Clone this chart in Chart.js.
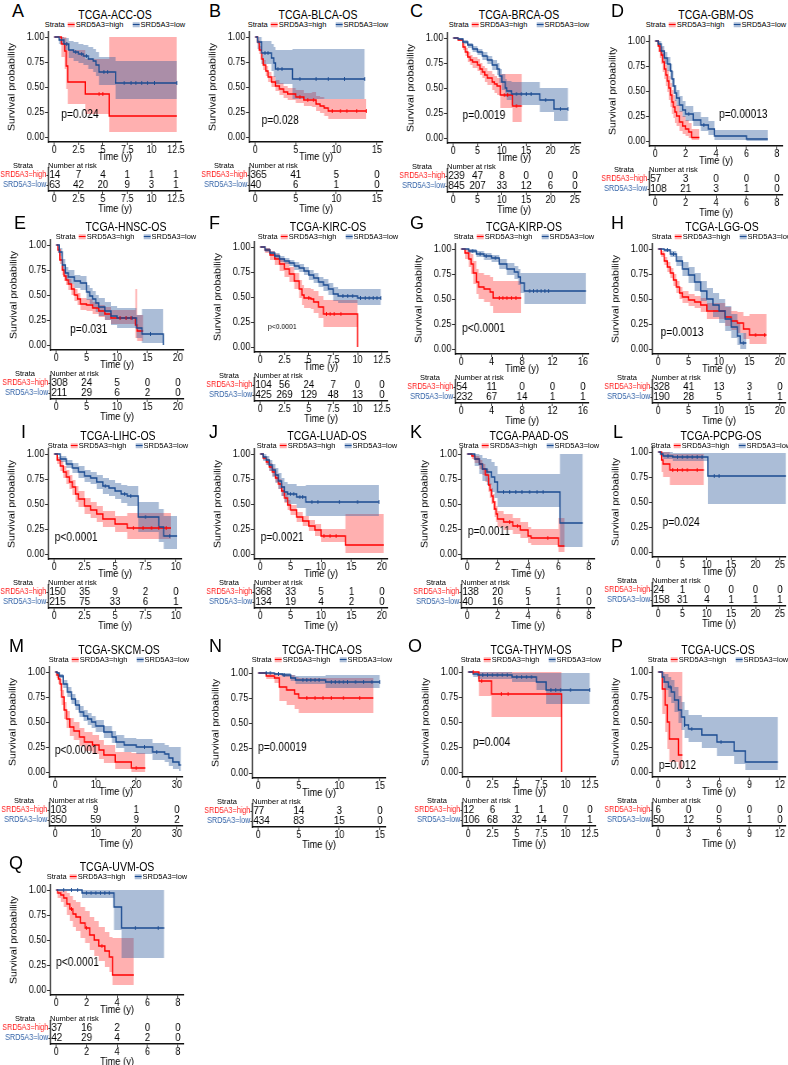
<!DOCTYPE html>
<html>
<head>
<meta charset="utf-8">
<title>SRD5A3 overall survival, TCGA</title>
<script src="https://cdn.jsdelivr.net/npm/chart.js@4.4.1/dist/chart.umd.min.js"></script>
<style>
  html, body { margin: 0; padding: 0; background: #fff; }
  body { width: 788px; height: 1065px; position: relative; overflow: hidden;
         font-family: 'Liberation Sans', Arial, sans-serif; color: #000; }
  canvas { position: absolute; }
  .txt { position: absolute; white-space: nowrap; line-height: 1; }
  .letter { font-size: 18px; line-height: 18px; }
  .title { font-size: 12.5px; transform: translate(-50%, -50%) scaleX(0.84); }
  .legend { font-size: 7.5px; transform: translate(-50%, -50%); display: flex; align-items: center; }
  .key { display: inline-block; width: 7px; height: 5px; margin: 0 1px 0 3px; }
  .key.high { background: linear-gradient(to bottom, #ffb0b0 40%, #f00 40%, #f00 62%, #ffb0b0 62%); }
  .key.low { background: linear-gradient(to bottom, #abbdd7 40%, #1b4b91 40%, #1b4b91 62%, #abbdd7 62%); }
  .gap { display: inline-block; width: 6px; }
  .head { font-size: 7.5px; transform: translateY(-50%); }
</style>
</head>
<body>
<script>
// ---- data, one entry per panel (A..Q) ----
const letters = ["A","B","C","D","E","F","G","H","I","J","K","L","M","N","O","P","Q"];
const titles = ["TCGA-ACC-OS","TCGA-BLCA-OS","TCGA-BRCA-OS","TCGA-GBM-OS","TCGA-HNSC-OS","TCGA-KIRC-OS",
  "TCGA-KIRP-OS","TCGA-LGG-OS","TCGA-LIHC-OS","TCGA-LUAD-OS","TCGA-PAAD-OS","TCGA-PCPG-OS",
  "TCGA-SKCM-OS","TCGA-THCA-OS","TCGA-THYM-OS","TCGA-UCS-OS","TCGA-UVM-OS"];
const pTexts = ["p=0.024","p=0.028","p=0.0019","p=0.00013","p=0.031","p<0.0001","p<0.0001","p=0.0013",
  "p<0.0001","p=0.0021","p=0.0011","p=0.024","p<0.0001","p=0.00019","p=0.004","p=0.012","p<0.0001"];

const xTicks = [
  [0,2.5,5,7.5,10,12.5],[0,5,10,15],[0,5,10,15,20,25],[0,2,4,6,8],
  [0,5,10,15,20],[0,2.5,5,7.5,10,12.5],[0,4,8,12,16],[0,5,10,15,20],
  [0,2.5,5,7.5,10],[0,5,10,15,20],[0,2,4,6,8],[0,5,10,15,20,25],
  [0,10,20,30],[0,5,10,15],[0,2.5,5,7.5,10,12.5],[0,3,6,9,12],[0,2,4,6,8]];
const yTicks = [0, 0.25, 0.5, 0.75, 1];

const riskHigh = [
  [14,7,4,1,1,1],[365,41,5,0],[239,47,8,0,0,0],[57,3,0,0,0],
  [308,24,5,0,0],[104,56,24,7,0,0],[54,11,0,0,0],[328,41,13,3,0],
  [150,35,9,2,0],[368,33,5,1,0],[138,20,5,1,0],[24,1,0,0,0,0],
  [103,9,1,0],[77,14,3,0],[12,6,1,1,0,0],[6,0,0,0,0],[37,16,2,0,0]];
const riskLow = [
  [63,42,20,9,3,1],[40,6,1,0],[845,207,33,12,6,0],[108,21,3,1,0],
  [211,29,6,2,0],[425,269,129,48,13,0],[232,67,14,1,1],[190,28,5,1,1],
  [215,75,33,6,1],[134,19,4,2,0],[40,16,1,1,0],[158,31,4,1,1,1],
  [350,59,9,2],[434,83,15,0],[106,68,32,14,7,1],[50,12,5,1,0],[42,29,4,2,0]];

// SRD5A3=high curves
const highTime = [
  [0,0.75,1.07,1.24,1.4,3.2,5.65,12.6],
  [0,0.3,0.5,0.8,1,1.3,1.6,2,2.5,3,3.5,4,5,6,7,7.5,8,8.5,9,13.7],
  [0,1,2,2.5,3,3.5,4,5,5.5,6,6.5,7,8,8.5,9,9.7,12.2,14.1],
  [0,0.2,0.3,0.4,0.5,0.6,0.7,0.8,0.9,1.0,1.1,1.2,1.3,1.4,1.6,1.8,2.0,2.2,2.4,2.9],
  [0,0.3,0.6,1,1.3,1.6,2,2.5,3,3.5,4,5,6,7,8,9,13,13.3,14.3],
  [0,0.5,1,1.5,2,2.5,3,3.5,4,4.3,4.5,5.2,5.5,6,6.5,10],
  [0,0.5,1,1.3,1.6,2,2.3,3,3.8,4.2,7.9],
  [0,0.5,1,1.5,2,2.5,3,3.5,4,5,6,7,8,10,11,12,13,14,15,17.8],
  [0,0.25,0.5,0.75,1,1.25,1.5,1.75,2,2.5,3,3.5,4,5,6,9.6],
  [0,0.5,1,1.5,2,2.5,3,3.5,4,4.5,5,6,7,8,9,10,14,20.3],
  [0,0.3,0.5,0.8,1,1.2,1.4,1.5,1.6,1.7,1.8,1.9,2,2.4,3,3.5,4,4.2,6,6.4],
  [0,0.7,1.0,2.4,9.4],
  [0,0.4,0.8,1.2,1.6,2.2,2.8,3.6,4.6,6,7.2,9.2,10.8,12,14.8,18.8,22.2],
  [0,1,2,2.6,3.5,4.5,5,14.2],
  [0,1.1,2.4,9.6],
  [0,0.4,0.7,0.9,1.1,2.0,2.4],
  [0,0.1,0.3,0.5,0.7,0.9,1.1,1.3,1.6,1.9,2.2,2.5,2.8,3.2,3.5,3.7,5.1]];
const highSurv = [
  [1,0.93,0.86,0.71,0.55,0.43,0.21,0.21],
  [1,0.95,0.87,0.78,0.72,0.66,0.6,0.55,0.51,0.48,0.45,0.43,0.4,0.37,0.37,0.33,0.31,0.29,0.26,0.26],
  [1,0.98,0.91,0.86,0.81,0.78,0.76,0.73,0.69,0.66,0.63,0.6,0.56,0.54,0.52,0.43,0.32,0.32],
  [1,0.95,0.9,0.86,0.79,0.72,0.66,0.6,0.53,0.46,0.39,0.34,0.29,0.25,0.19,0.15,0.12,0.09,0.035,0.035],
  [1,0.95,0.85,0.75,0.69,0.65,0.61,0.56,0.5,0.46,0.41,0.4,0.37,0.34,0.31,0.27,0.2,0.14,0.14],
  [1,0.97,0.92,0.88,0.83,0.78,0.73,0.66,0.58,0.52,0.49,0.48,0.45,0.4,0.33,0],
  [1,0.96,0.9,0.85,0.76,0.67,0.62,0.6,0.57,0.51,0.51],
  [1,0.95,0.88,0.82,0.76,0.69,0.62,0.56,0.52,0.49,0.47,0.44,0.38,0.38,0.32,0.28,0.26,0.2,0.14,0.14],
  [1,0.94,0.88,0.82,0.77,0.72,0.67,0.6,0.55,0.48,0.44,0.4,0.35,0.3,0.26,0.26],
  [1,0.96,0.92,0.87,0.82,0.76,0.7,0.63,0.56,0.49,0.44,0.37,0.33,0.28,0.24,0.18,0.09,0.09],
  [1,0.98,0.95,0.9,0.85,0.79,0.69,0.64,0.58,0.52,0.45,0.4,0.35,0.32,0.28,0.24,0.18,0.16,0.08,0.08],
  [1,0.92,0.88,0.82,0.82],
  [1,0.97,0.93,0.88,0.75,0.62,0.53,0.45,0.41,0.35,0.3,0.27,0.22,0.17,0.1,0.04,0.04],
  [1,0.97,0.95,0.86,0.83,0.79,0.75,0.75],
  [1,0.91,0.78,0],
  [1,0.83,0.67,0.5,0.33,0.17,0.17],
  [1,0.97,0.95,0.92,0.86,0.81,0.76,0.73,0.67,0.62,0.55,0.5,0.44,0.39,0.33,0.15,0.15]];
const highUpper = [
  [1,1,1,0.95,0.87,0.78,1,1],
  [1,0.97,0.91,0.83,0.77,0.71,0.65,0.61,0.57,0.54,0.51,0.49,0.47,0.44,0.45,0.41,0.4,0.38,0.38,0.38],
  [1,0.99,0.94,0.9,0.86,0.83,0.81,0.79,0.75,0.72,0.7,0.67,0.64,0.62,0.6,0.64,0.64,0.64],
  [1,1,0.97,0.94,0.88,0.82,0.76,0.71,0.65,0.58,0.51,0.46,0.41,0.36,0.3,0.25,0.21,0.18,0.12,0.12],
  [1,0.98,0.89,0.8,0.74,0.7,0.66,0.61,0.56,0.52,0.47,0.46,0.43,0.4,0.38,0.35,0.56,0.3,0.3],
  [1,0.99,0.96,0.93,0.89,0.85,0.8,0.74,0.67,0.62,0.59,0.58,0.56,0.51,0.47,0.47],
  [1,1,0.98,0.95,0.88,0.8,0.76,0.74,0.72,0.68,0.68],
  [1,0.98,0.92,0.87,0.81,0.75,0.68,0.62,0.58,0.55,0.53,0.51,0.46,0.46,0.42,0.38,0.37,0.33,0.35,0.35],
  [1,0.97,0.93,0.88,0.84,0.79,0.74,0.68,0.63,0.56,0.52,0.48,0.43,0.38,0.41,0.41],
  [1,0.98,0.95,0.91,0.86,0.8,0.75,0.68,0.61,0.54,0.49,0.42,0.38,0.34,0.3,0.25,0.4,0.4],
  [1,1,0.98,0.94,0.9,0.85,0.76,0.71,0.66,0.6,0.53,0.48,0.43,0.4,0.36,0.32,0.27,0.25,0.36,0.36],
  [1,1,1,0.98,0.98],
  [1,1,0.97,0.93,0.82,0.7,0.61,0.54,0.5,0.44,0.4,0.37,0.32,0.27,0.2,0.19,0.19],
  [1,1,1,0.99,0.98,0.96,0.95,0.95],
  [1,1,1,1],
  [1,1,1,1,1,1,1],
  [1,1,1,0.99,0.97,0.94,0.9,0.88,0.83,0.79,0.73,0.69,0.63,0.58,0.53,0.52,0.52]];
const highLower = [
  [1,0.8,0.68,0.48,0.33,0.23,0.05,0.05],
  [1,0.93,0.83,0.73,0.67,0.61,0.55,0.5,0.46,0.42,0.39,0.37,0.34,0.31,0.3,0.26,0.24,0.21,0.18,0.18],
  [1,0.97,0.88,0.82,0.76,0.73,0.7,0.67,0.63,0.6,0.56,0.53,0.48,0.45,0.43,0.3,0.16,0.16],
  [1,0.89,0.83,0.77,0.69,0.62,0.55,0.49,0.41,0.34,0.27,0.23,0.18,0.15,0.1,0.07,0.05,0.03,0.01,0.01],
  [1,0.92,0.81,0.7,0.64,0.6,0.55,0.5,0.44,0.4,0.35,0.34,0.31,0.28,0.25,0.21,0.07,0.04,0.04],
  [1,0.94,0.87,0.82,0.76,0.7,0.65,0.58,0.49,0.42,0.39,0.38,0.34,0.29,0.2,0.2],
  [1,0.9,0.82,0.75,0.65,0.55,0.5,0.47,0.43,0.36,0.36],
  [1,0.92,0.84,0.77,0.71,0.63,0.56,0.5,0.46,0.43,0.41,0.37,0.3,0.3,0.23,0.19,0.16,0.1,0.05,0.05],
  [1,0.9,0.83,0.76,0.7,0.65,0.59,0.52,0.47,0.4,0.36,0.32,0.27,0.22,0.15,0.15],
  [1,0.94,0.89,0.83,0.78,0.72,0.65,0.58,0.51,0.44,0.39,0.32,0.28,0.23,0.18,0.12,0.01,0.01],
  [1,0.95,0.91,0.85,0.79,0.72,0.62,0.56,0.5,0.44,0.37,0.32,0.27,0.24,0.2,0.16,0.11,0.09,0.02,0.02],
  [1,0.8,0.75,0.67,0.67],
  [1,0.94,0.88,0.81,0.67,0.53,0.44,0.36,0.32,0.26,0.21,0.18,0.13,0.09,0.03,0,0],
  [1,0.94,0.9,0.72,0.68,0.64,0.6,0.6],
  [1,0.76,0.55,0.55],
  [1,0.58,0.4,0.23,0.1,0.03,0.03],
  [1,0.92,0.88,0.83,0.75,0.69,0.63,0.59,0.52,0.47,0.4,0.34,0.29,0.23,0.18,0.05,0.05]];
const highCensor = [
  [4.6,5.0],[5.5,6.5,7.2,9.5,10.5,11.3,12.5,13.7],[10.5,11.2,13.0],[],
  [10.5,11.5,12.3],[5.0,6.8,7.2,7.6,8.3],[5,5.5,6,6.6,7.2],[16,17.5],
  [6.5,7.3,8.0,8.6,9.2],[10.5,11.5,12.5],[2.8,3.3,5.3],[3,4,5,6,8],
  [20],[6,7,8,9,10.5,12.5],[0.5,1.4,3.4,4.1],[],[1.0,2.0,3.0]];

// SRD5A3=low curves
const lowTime = [
  [0,0.5,1.0,1.5,2.0,2.5,3.0,3.5,4.0,4.3,4.6,6.3,12.6],
  [0,0.3,0.8,2.0,2.3,2.5,4.6,13.5],
  [0,1,2,3,4,5,6,7,8,9,9.5,10,10.7,11,12,17.8,20.7,23.6],
  [0,0.2,0.4,0.6,0.8,1.0,1.1,1.2,1.3,1.4,1.6,1.8,2.0,2.5,3.0,3.5,3.9,6.0,7.4],
  [0,0.5,1,1.5,2,3,4,5,5.5,6,6.5,7,8,9,10,13.2,14.1,17.6],
  [0,0.5,1,1.5,2,2.5,3,3.5,4,4.5,5,5.5,6,6.5,7,7.5,8,10,12.4],
  [0,1,2,3,4,5,6,7,7.5,7.8,8.3,16.4],
  [0,1,2,3,4,5,6,7,8,9,10,11,12,13,13.5,14.5],
  [0,0.5,1,1.5,2,2.5,3,3.5,4,4.5,5,5.5,6,6.9,8.6,9.0,10.1],
  [0,0.5,1,1.5,2,2.5,3,3.5,4,4.5,6,7.5,19.5],
  [0,0.5,0.8,1,1.3,1.6,1.8,2,6.1,7.6],
  [0,0.5,1,3,10.2,26.4],
  [0,0.5,1,2,3,4,5,6,7,8,9,10,12,14,15,17,20,24,27,28,29,30.5,31],
  [0,2,3,4,4.6,8.3,15],
  [0,0.5,1,4.5,7,8,12.5],
  [0,0.4,0.6,1,1.3,1.6,2,2.3,2.6,3,4.3,5.8,7.5,8.6,11.8],
  [0,1.7,3.8,4.3,7.1]];
const lowSurv = [
  [1,0.97,0.93,0.87,0.85,0.83,0.81,0.78,0.76,0.72,0.65,0.54,0.54],
  [1,0.95,0.84,0.79,0.74,0.68,0.58,0.58],
  [1,0.99,0.96,0.93,0.89,0.86,0.82,0.78,0.73,0.69,0.62,0.56,0.5,0.47,0.44,0.38,0.29,0.29],
  [1,0.97,0.9,0.83,0.77,0.7,0.62,0.55,0.48,0.43,0.36,0.31,0.27,0.21,0.16,0.12,0.05,0.02,0.02],
  [1,0.93,0.8,0.72,0.68,0.64,0.62,0.53,0.49,0.46,0.42,0.38,0.34,0.29,0.27,0.17,0.11,0],
  [1,0.97,0.94,0.91,0.88,0.86,0.84,0.81,0.79,0.76,0.72,0.69,0.65,0.62,0.58,0.53,0.51,0.49,0.49],
  [1,0.98,0.95,0.93,0.91,0.85,0.8,0.77,0.72,0.66,0.58,0.58],
  [1,0.99,0.95,0.88,0.8,0.74,0.67,0.58,0.5,0.44,0.38,0.3,0.22,0.13,0.06,0.06],
  [1,0.95,0.9,0.86,0.82,0.78,0.76,0.72,0.68,0.66,0.63,0.6,0.58,0.37,0.27,0.18,0.18],
  [1,0.97,0.94,0.89,0.84,0.79,0.73,0.67,0.62,0.6,0.57,0.52,0.52],
  [1,0.95,0.9,0.85,0.82,0.77,0.72,0.62,0.31,0.31],
  [1,0.98,0.96,0.95,0.76,0.76],
  [1,0.99,0.96,0.88,0.8,0.73,0.67,0.6,0.56,0.53,0.5,0.46,0.4,0.35,0.3,0.27,0.25,0.2,0.18,0.14,0.1,0.07,0.07],
  [1,0.99,0.98,0.95,0.93,0.91,0.91],
  [1,0.98,0.97,0.95,0.9,0.82,0.82],
  [1,0.95,0.9,0.85,0.8,0.72,0.62,0.55,0.47,0.43,0.37,0.3,0.21,0.1,0.1],
  [1,0.97,0.83,0.62,0.62]];
const lowUpper = [
  [1,1,0.99,0.96,0.95,0.93,0.92,0.9,0.88,0.85,0.8,0.76,0.76],
  [1,1,0.96,0.93,0.9,0.87,0.88,0.88],
  [1,1,0.98,0.95,0.92,0.89,0.86,0.82,0.78,0.75,0.69,0.64,0.59,0.57,0.56,0.5,0.5,0.5],
  [1,1,0.95,0.89,0.84,0.77,0.7,0.63,0.56,0.51,0.45,0.4,0.35,0.29,0.24,0.2,0.11,0.11,0.11],
  [1,0.97,0.86,0.78,0.75,0.7,0.69,0.6,0.57,0.54,0.5,0.47,0.43,0.39,0.37,0.3,0.36,0.36],
  [1,0.99,0.96,0.94,0.91,0.89,0.87,0.85,0.83,0.8,0.77,0.74,0.7,0.68,0.64,0.6,0.58,0.58,0.58],
  [1,1,0.98,0.96,0.94,0.9,0.86,0.83,0.8,0.76,0.76,0.76],
  [1,1,0.98,0.93,0.87,0.82,0.76,0.68,0.61,0.56,0.5,0.43,0.35,0.26,0.16,0.16],
  [1,0.98,0.94,0.91,0.88,0.84,0.82,0.79,0.76,0.74,0.71,0.69,0.68,0.52,0.45,0.38,0.38],
  [1,1,0.98,0.94,0.9,0.86,0.81,0.76,0.72,0.7,0.68,0.69,0.69],
  [1,1,0.99,0.96,0.95,0.92,0.88,0.8,1,1],
  [1,1,1,0.99,0.99,0.99],
  [1,1,0.98,0.92,0.85,0.78,0.72,0.66,0.62,0.59,0.56,0.52,0.46,0.41,0.37,0.34,0.33,0.29,0.27,0.25,0.25,0.25,0.25],
  [1,1,1,0.98,0.97,0.98,0.98],
  [1,1,1,0.99,0.99,0.99,0.99],
  [1,1,0.98,0.95,0.92,0.85,0.76,0.7,0.62,0.57,0.55,0.55,0.55,0.55,0.55],
  [1,1,1,1,1]];
const lowLower = [
  [1,0.93,0.87,0.79,0.76,0.74,0.72,0.68,0.65,0.61,0.52,0.38,0.38],
  [1,0.88,0.73,0.66,0.6,0.53,0.38,0.38],
  [1,0.98,0.94,0.9,0.86,0.83,0.78,0.74,0.68,0.63,0.55,0.48,0.41,0.38,0.33,0.26,0.17,0.17],
  [1,0.94,0.85,0.77,0.7,0.62,0.54,0.47,0.4,0.35,0.29,0.24,0.2,0.15,0.1,0.06,0.01,0,0],
  [1,0.89,0.74,0.66,0.61,0.57,0.55,0.45,0.41,0.37,0.33,0.29,0.25,0.2,0.17,0.07,0.02,0.02],
  [1,0.95,0.92,0.88,0.85,0.83,0.81,0.77,0.75,0.72,0.67,0.64,0.6,0.56,0.52,0.46,0.44,0.42,0.42],
  [1,0.96,0.92,0.89,0.87,0.8,0.74,0.7,0.64,0.56,0.45,0.45],
  [1,0.97,0.92,0.83,0.73,0.66,0.58,0.48,0.39,0.32,0.26,0.18,0.11,0.04,0,0],
  [1,0.92,0.86,0.81,0.76,0.72,0.7,0.65,0.6,0.58,0.55,0.51,0.48,0.22,0.12,0.05,0.05],
  [1,0.93,0.89,0.83,0.77,0.71,0.65,0.58,0.52,0.5,0.46,0.38,0.38],
  [1,0.88,0.8,0.73,0.69,0.62,0.56,0.47,0.07,0.07],
  [1,0.96,0.93,0.91,0.48,0.48],
  [1,0.97,0.94,0.84,0.75,0.68,0.62,0.55,0.51,0.47,0.44,0.4,0.34,0.29,0.24,0.2,0.18,0.12,0.1,0.06,0.03,0.01,0.01],
  [1,0.98,0.96,0.92,0.89,0.85,0.85],
  [1,0.95,0.93,0.9,0.82,0.68,0.68],
  [1,0.89,0.82,0.75,0.69,0.6,0.49,0.42,0.34,0.3,0.24,0.16,0.08,0.02,0.02],
  [1,0.92,0.6,0.32,0.32]];
const lowCensor = [
  [1.3,2.2,2.8,3.3,5.1,5.5,7.2,7.9,8.4,9.0,9.6,10.3,12.6],[1.2,1.6,2.8,3.3,5.5,7.5,9.0,11.0,13.5],
  [13,14,15,16,19,22,23.6],[2.2,3.2],
  [10.5,11.5,12.5,15.5],[8.5,9.0,9.5,10.3,10.8,11.2,11.6,12.0,12.4],
  [1.5,2.5,3.3,4.5,9.0,9.5,10.0,10.5,11.0,11.5],[1.5,2.5,14.0],
  [4.2,5.8,6.3,7.5,9.5],[5,5.5,6.5,7,8.5,9.5,13,16,19.5],[2.4,2.8,3.2,3.6,4.1,4.6,5.0],
  [2,4,5,6,7,8,9,11.5,12.5],[22,25],
  [1,1.5,2.5,3.2,5.5,6,6.5,7,7.5,9,9.5,10,10.5,11,12,13,14,15],
  [1.5,2,2.5,3,3.5,4,5,5.5,6,6.5,8.5,9,9.5,10.5,12.5],[1.2,2.6,3.3,6.2],
  [0.5,1.0,1.4,2.0,2.3,2.6,2.9,3.2,3.5,5.2,6.7]];

// ---- layout ----
const rowTop = [0, 212, 421, 635, 852];
const panelRow = [0,0,0,0,1,1,1,1,2,2,2,2,3,3,3,3,4];
const panelOrigin = [[0,0],[201,0],[399,1],[601,4],[2,208],[206,210],[407,212],[604,212],
  [0,417],[206,417],[413,417],[604,415],[1,635],[204,636],[414,635],[604,635],[2,853]];
const letterX = [12,209,410,611,14,209,410,611,21,209,410,613,9,209,408,611,9];
const titleX = [115,318,519,716,126,328,524,722,118,327,529,721,119,322,531,718,117];
const pPos = [[0.74,0.22],[0.8,0.16],[1.9,0.22],[4.2,0.26],[2.3,0.15],[0.8,0.2],[0.13,0.2],[0.4,0.16],
  [0.05,0.165],[0.1,0.165],[0.05,0.22],[0.9,0.29],[-0.1,0.21],[0,0.25],[0.5,0.29],[0.07,0.06],[0,0.27]];
const pSize = [12,12,12,12,12,8,12,12,12,12,12,12,12,12,12,12,12];

const SX = 0.85;          // canvases are drawn wider and squeezed back, like the source figure
const FONT = "'Liberation Sans', Arial, sans-serif";
const RED = "#ff0000";
const BLUE = "#1b4b91";
const RED_BAND = "rgba(255,0,0,0.31)";
const BLUE_BAND = "rgba(46,90,156,0.4)";
const RED_TXT = "#ff2020";
const BLUE_TXT = "#3363a8";

Chart.defaults.font.family = FONT;
Chart.defaults.color = "#000";

function pts(T, V) { return T.map((t, i) => ({ x: t, y: V[i] })); }
function survAt(T, S, c) {
  let v = S[0];
  for (let i = 0; i < T.length; i++) if (T[i] <= c) v = S[i];
  return v;
}

const pvalPlugin = {
  id: "pval",
  afterDatasetsDraw(chart, args, opts) {
    const { ctx, scales: { x, y } } = chart;
    ctx.save();
    ctx.font = opts.size + "px " + FONT;
    ctx.fillStyle = "#000";
    ctx.textAlign = "left";
    ctx.textBaseline = "middle";
    ctx.fillText(opts.text, x.getPixelForValue(opts.x), y.getPixelForValue(opts.y));
    ctx.restore();
  }
};

// numbers at risk, centred on their time; the first column is kept clear of the axis line
const riskPlugin = {
  id: "risk",
  afterDatasetsDraw(chart) {
    const ctx = chart.ctx;
    const left = chart.chartArea.left;
    ctx.save();
    ctx.font = "11.5px " + FONT;
    ctx.fillStyle = "#000";
    ctx.textAlign = "center";
    ctx.textBaseline = "middle";
    chart.data.datasets.forEach((ds, di) => {
      const meta = chart.getDatasetMeta(di);
      meta.data.forEach((el, i) => {
        const s = String(ds.data[i].n);
        const w = ctx.measureText(s).width;
        ctx.fillText(s, Math.max(el.x, left + w / 2 + 1.5), el.y);
      });
    });
    ctx.restore();
  }
};

function axisStyle(tickLen) {
  return {
    grid: { display: true, drawOnChartArea: false, tickLength: tickLen, color: "#333" },
    border: { display: true, color: "#111", width: 1.4 }
  };
}

function xScale(p, height, titlePad) {
  const ticks = xTicks[p];
  const L = ticks[ticks.length - 1];
  return Object.assign({
    type: "linear", min: -0.05 * L, max: 1.05 * L,
    afterBuildTicks: s => { s.ticks = ticks.map(v => ({ value: v })); },
    afterFit: s => { s.height = height; },
    ticks: { font: { size: 10.5 }, color: "#000", padding: -1, maxRotation: 0, autoSkip: false,
             callback: v => String(v) },
    title: { display: true, text: "Time (y)", font: { size: 11 }, color: "#000",
             padding: { top: 0, bottom: titlePad } }
  }, axisStyle(3));
}

function addText(cls, html, left, top) {
  const d = document.createElement("div");
  d.className = "txt " + cls;
  d.innerHTML = html;
  d.style.left = left + "px";
  d.style.top = top + "px";
  document.body.appendChild(d);
}

function addCanvas(left, top, w, h) {
  const c = document.createElement("canvas");
  c.width = Math.round(w / SX); c.height = h;
  c.style.left = left + "px"; c.style.top = top + "px";
  c.style.width = w + "px"; c.style.height = h + "px";
  document.body.appendChild(c);
  return c;
}

function drawPanel(p) {
  const rt = rowTop[panelRow[p]];
  const [ox, oy] = panelOrigin[p];

  addText("letter", letters[p], letterX[p], rt + 2);
  addText("title", titles[p], titleX[p], rt + 15);
  addText("legend",
    'Strata<span class="key high"></span>SRD5A3=high<span class="gap"></span>' +
    '<span class="key low"></span>SRD5A3=low', titleX[p], rt + 25);

  // survival curves with confidence bands
  const hT = highTime[p], hS = highSurv[p], lT = lowTime[p], lS = lowSurv[p];
  const clear = "rgba(0,0,0,0)";
  const base = { stepped: true, pointRadius: 0, borderWidth: 0, borderColor: clear };
  const km = addCanvas(ox, oy, 200, 166);
  new Chart(km, {
    type: "line",
    data: {
      datasets: [
        Object.assign({}, base, { data: pts(hT, highUpper[p]), fill: false, order: 6 }),
        Object.assign({}, base, { data: pts(hT, highLower[p]), fill: 0, backgroundColor: RED_BAND, order: 5 }),
        Object.assign({}, base, { data: pts(lT, lowUpper[p]), fill: false, order: 4 }),
        Object.assign({}, base, { data: pts(lT, lowLower[p]), fill: 2, backgroundColor: BLUE_BAND, order: 3 }),
        { data: pts(hT, hS), stepped: true, pointRadius: 0, borderColor: RED, borderWidth: 1.5, fill: false, order: 2 },
        { data: pts(lT, lS), stepped: true, pointRadius: 0, borderColor: BLUE, borderWidth: 1.5, fill: false, order: 1 },
        { data: highCensor[p].map(c => ({ x: c, y: survAt(hT, hS, c) })), showLine: false,
          pointStyle: "line", rotation: 90, pointRadius: 2, borderColor: RED, borderWidth: 1, order: 0 },
        { data: lowCensor[p].map(c => ({ x: c, y: survAt(lT, lS, c) })), showLine: false,
          pointStyle: "line", rotation: 90, pointRadius: 2, borderColor: BLUE, borderWidth: 1, order: 0 }
      ]
    },
    options: {
      responsive: false, animation: false, devicePixelRatio: 1, events: [],
      layout: { padding: { left: 0, right: 18 / SX, top: 32, bottom: 0 } },
      plugins: {
        legend: { display: false }, tooltip: { enabled: false },
        pval: { text: pTexts[p], x: pPos[p][0], y: pPos[p][1], size: pSize[p] }
      },
      scales: {
        x: xScale(p, 24, 2.5),
        y: Object.assign({
          type: "linear", min: -0.05, max: 1.05,
          afterBuildTicks: s => { s.ticks = yTicks.map(v => ({ value: v })); },
          afterFit: s => { s.width = 48 / SX; },
          ticks: { font: { size: 10.5 }, color: "#000", padding: 1, callback: v => v.toFixed(2) },
          title: { display: true, text: "Survival probability", font: { size: 10.5 }, color: "#000",
                   padding: { top: 8, bottom: 0 } }
        }, axisStyle(3.5))
      }
    },
    plugins: [pvalPlugin]
  });

  // number at risk table
  addText("head", "Strata", ox + 13, oy + 166);
  addText("head", "Number at risk", ox + 48, oy + 166);
  const rk = addCanvas(ox, oy + 162, 200, 54);
  const times = xTicks[p];
  new Chart(rk, {
    type: "line",
    data: {
      datasets: [
        { data: times.map((t, j) => ({ x: t, y: 2, n: riskHigh[p][j] })), showLine: false, pointRadius: 0 },
        { data: times.map((t, j) => ({ x: t, y: 1, n: riskLow[p][j] })), showLine: false, pointRadius: 0 }
      ]
    },
    options: {
      responsive: false, animation: false, devicePixelRatio: 1, events: [],
      layout: { padding: { left: 0, right: 18 / SX, top: 6, bottom: 0 } },
      plugins: { legend: { display: false }, tooltip: { enabled: false } },
      scales: {
        x: xScale(p, 25, 0),
        y: Object.assign({
          type: "linear", min: 0.4, max: 2.7,
          afterBuildTicks: s => { s.ticks = [{ value: 1 }, { value: 2 }]; },
          afterFit: s => { s.width = 48 / SX; },
          ticks: { font: { size: 8.5 }, padding: 0,
                   color: c => (c.tick && c.tick.value === 2 ? RED_TXT : BLUE_TXT),
                   callback: v => (v === 2 ? "SRD5A3=high" : "SRD5A3=low") }
        }, axisStyle(2))
      }
    },
    plugins: [riskPlugin]
  });
}

for (let p = 0; p < titles.length; p++) drawPanel(p);
</script>
</body>
</html>
